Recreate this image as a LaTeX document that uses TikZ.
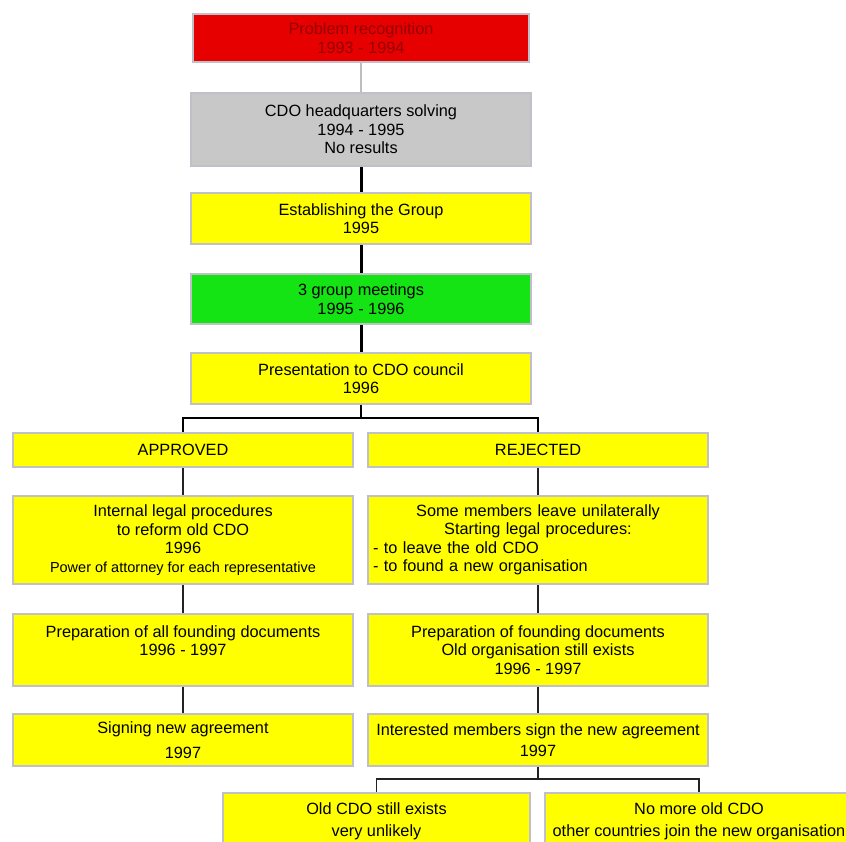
\documentclass[tikz,border=0pt]{standalone}
\usepackage{fontspec}
\setmainfont{Liberation Sans}
\definecolor{boxborder}{RGB}{192,192,202}
\definecolor{boxyellow}{RGB}{255,255,0}
\definecolor{boxred}{RGB}{230,0,0}
\definecolor{redtext}{RGB}{150,0,0}
\definecolor{boxgray}{RGB}{200,200,200}
\definecolor{boxgreen}{RGB}{20,228,20}
\definecolor{lightline}{RGB}{190,190,190}
\definecolor{thinline}{RGB}{35,35,35}
\begin{document}
\begin{tikzpicture}[x=1pt,y=-1pt,
  box/.style={draw=boxborder, line width=2.5pt, fill=boxyellow, inner sep=2pt,
    font=\fontsize{16.3}{18.5}\selectfont, align=center, anchor=center},
  wide/.style={minimum width=340pt},
  grayconn/.style={draw=lightline, line width=2pt},
  thickconn/.style={draw=black, line width=3pt},
  forkconn/.style={draw=black, line width=2.2pt},
  thinconn/.style={draw=thinline, line width=1.4pt}]
\useasboundingbox (0,0) rectangle (846,842);
\clip (0,0) rectangle (846,842);
% central column
\node[box, wide, fill=boxred, text=redtext, minimum width=336pt, minimum height=48pt] (prob) at (361,38) {Problem recognition\\1993 - 1994};
\node[box, wide, fill=boxgray, minimum height=73pt] (hq) at (361,129.5) {CDO headquarters solving\\1994 - 1995\\No results};
\node[box, wide, minimum height=51pt] (est) at (361,218.5) {Establishing the Group\\1995};
\node[box, wide, fill=boxgreen, minimum height=50pt] (meet) at (361,299) {3 group meetings\\1995 - 1996};
\node[box, wide, minimum height=51pt] (pres) at (361,378.5) {Presentation to CDO council\\1996};
% left branch
\node[box, wide, minimum height=34pt] (appr) at (183,450) {APPROVED};
\node[box, wide, minimum height=88pt] (intl) at (183,540) {Internal legal procedures\\to reform old CDO\\1996\\{\fontsize{14.5}{18.5}\selectfont Power of attorney for each representative}};
\node[box, wide, minimum height=72pt] (prepl) at (183,650) {Preparation of all founding documents\\1996 - 1997\\~};
\node[box, wide, minimum height=52pt] (signl) at (183,740) {Signing new agreement\\[6pt]1997};
% right branch
\node[box, wide, minimum height=34pt] (rej) at (538,450) {REJECTED};
\node[box, wide, minimum height=88pt, align=left, text width=330pt] (some) at (538,540) {\makebox[330pt]{Some members leave unilaterally}\\\makebox[330pt]{Starting legal procedures:}\\- to leave the old CDO\\- to found a new organisation};
\node[box, wide, minimum height=72pt] (prepr) at (538,650) {Preparation of founding documents\\Old organisation still exists\\1996 - 1997};
\node[box, wide, minimum height=52pt] (signr) at (538,740) {Interested members sign the new agreement\\[2.5pt]1997};
% outcomes
\node[box, minimum width=307pt, minimum height=56pt] (oldcdo) at (376.5,821) {Old CDO still exists\\[3.5pt]very unlikely};
\node[box, minimum width=308pt, minimum height=56pt] (nomore) at (699,821) {No more old CDO\\[3.5pt]other countries join the new organisation};
% connectors
\draw[grayconn] (prob) -- (hq);
\draw[thickconn] (hq) -- (est);
\draw[thickconn] (est) -- (meet);
\draw[thickconn] (meet) -- (pres);
\coordinate (fork1) at (361,418);
\draw[forkconn] (pres.south) -- (fork1);
\draw[forkconn] (appr.north) |- (fork1) -| (rej.north);
\draw[thinconn] (appr) -- (intl);
\draw[thinconn] (intl) -- (prepl);
\draw[thinconn] (prepl) -- (signl);
\draw[thinconn] (rej) -- (some);
\draw[thinconn] (some) -- (prepr);
\draw[thinconn] (prepr) -- (signr);
\coordinate (fork2) at (538,779);
\draw[thinconn] (signr.south) -- (fork2);
\draw[thinconn] (oldcdo.north) |- (fork2) -| (nomore.north);
\end{tikzpicture}
\end{document}
